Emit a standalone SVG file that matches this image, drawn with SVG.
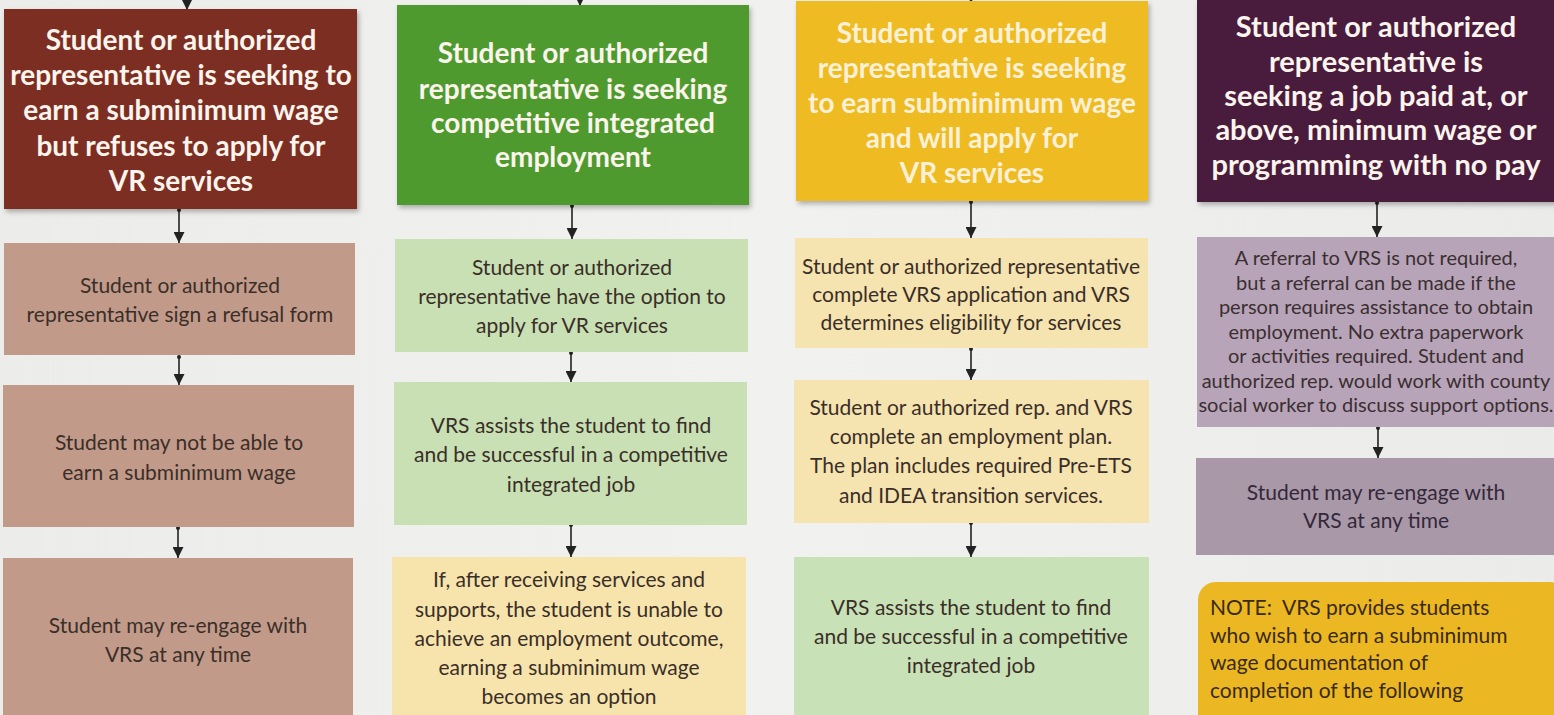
<svg xmlns="http://www.w3.org/2000/svg" width="1554" height="715" viewBox="0 0 1554 715">
<defs>
<style>
.hd{font-family:Lato,"Open Sans","DejaVu Sans",sans-serif;font-weight:700;font-size:28px;text-anchor:middle;fill:#fbf4ec}
.bd{font-family:Lato,"Open Sans","DejaVu Sans",sans-serif;font-weight:400;font-size:21px;text-anchor:middle;fill:#3a2f28}
.sm{font-family:Lato,"Open Sans","DejaVu Sans",sans-serif;font-weight:400;font-size:20px;text-anchor:middle;fill:#3a2f30}
.nt{font-family:Lato,"Open Sans","DejaVu Sans",sans-serif;font-weight:400;font-size:21px;fill:#3a2a10}
.cn{stroke:#222;stroke-width:1.6;fill:none;marker-end:url(#ah);marker-start:url(#dot)}
.cn0{stroke:#222;stroke-width:1.6;fill:none;marker-end:url(#ah)}
</style>
<marker id="ah" viewBox="0 0 10 10" refX="10" refY="5" markerWidth="13" markerHeight="11" markerUnits="userSpaceOnUse" orient="auto"><path d="M0,0 L10,5 L0,10 z" fill="#222"/></marker>
<marker id="dot" viewBox="0 0 4 4" refX="2" refY="2" markerWidth="4" markerHeight="4" markerUnits="userSpaceOnUse"><circle cx="2" cy="2" r="2" fill="#222"/></marker>
<filter id="sh" x="-5%" y="-5%" width="112%" height="115%"><feDropShadow dx="2" dy="3" stdDeviation="2.5" flood-color="#000" flood-opacity="0.28"/></filter>
<linearGradient id="bg" x1="0" y1="0" x2="1" y2="0"><stop offset="0" stop-color="#ececea"/><stop offset="0.5" stop-color="#f1f1ef"/><stop offset="1" stop-color="#ebebe9"/></linearGradient>
</defs>
<rect width="1554" height="715" fill="url(#bg)"/>

<g id="connectors">
<path class="cn0" d="M187,-6 V10"/>
<path class="cn0" d="M580,-8 V6"/>
<path class="cn0" d="M971,-10 V3"/>
<path class="cn0" d="M1377,-12 V1"/>
<path class="cn" d="M179,210 V243"/>
<path class="cn" d="M179,357 V385"/>
<path class="cn" d="M178,528 V558"/>
<path class="cn" d="M572,206 V239"/>
<path class="cn" d="M571,353 V382"/>
<path class="cn" d="M571,525 V557"/>
<path class="cn" d="M971,202 V238"/>
<path class="cn" d="M971,349 V380"/>
<path class="cn" d="M971,523 V557"/>
<path class="cn" d="M1377,203 V237"/>
<path class="cn" d="M1378,428 V458"/>
</g>

<g id="c1-head">
<rect x="4" y="9" width="353" height="200" fill="#7b2e24" filter="url(#sh)"/>
<text class="hd" x="181" y="50">Student or authorized</text>
<text class="hd" x="181" y="85">representative is seeking to</text>
<text class="hd" x="181" y="120">earn a subminimum wage</text>
<text class="hd" x="181" y="156">but refuses to apply for</text>
<text class="hd" x="181" y="191">VR services</text>
</g>
<g id="c1-refusal">
<rect x="4" y="243" width="351" height="112" fill="#c29a8a"/>
<text class="bd" x="180" y="293">Student or authorized</text>
<text class="bd" x="180" y="322">representative sign a refusal form</text>
</g>
<g id="c1-notable">
<rect x="3" y="385" width="351" height="142" fill="#c29a8a"/>
<text class="bd" x="179" y="450">Student may not be able to</text>
<text class="bd" x="179" y="480">earn a subminimum wage</text>
</g>
<g id="c1-reengage">
<rect x="3" y="558" width="350" height="170" fill="#c29a8a"/>
<text class="bd" x="178" y="633">Student may re-engage with</text>
<text class="bd" x="178" y="662">VRS at any time</text>
</g>

<g id="c2-head">
<rect x="397" y="5" width="352" height="200" fill="#4f9a2f" filter="url(#sh)"/>
<text class="hd" x="573" y="63">Student or authorized</text>
<text class="hd" x="573" y="99">representative is seeking</text>
<text class="hd" x="573" y="133">competitive integrated</text>
<text class="hd" x="573" y="167">employment</text>
</g>
<g id="c2-option">
<rect x="395" y="239" width="353" height="113" fill="#c8e0b4"/>
<text class="bd" x="572" y="275">Student or authorized</text>
<text class="bd" x="572" y="304">representative have the option to</text>
<text class="bd" x="572" y="333">apply for VR services</text>
</g>
<g id="c2-assist">
<rect x="394" y="382" width="353" height="143" fill="#c8e0b4"/>
<text class="bd" x="571" y="433">VRS assists the student to find</text>
<text class="bd" x="571" y="462">and be successful in a competitive</text>
<text class="bd" x="571" y="492">integrated job</text>
</g>
<g id="c2-unable">
<rect x="392" y="557" width="354" height="170" fill="#f7e4ad"/>
<text class="bd" x="569" y="587">If, after receiving services and</text>
<text class="bd" x="569" y="617">supports, the student is unable to</text>
<text class="bd" x="569" y="646">achieve an employment outcome,</text>
<text class="bd" x="569" y="675">earning a subminimum wage</text>
<text class="bd" x="569" y="704">becomes an option</text>
</g>

<g id="c3-head">
<rect x="796" y="1" width="352" height="200" fill="#efbb22" filter="url(#sh)"/>
<text class="hd" x="972" y="43" style="fill:#fcf1d6">Student or authorized</text>
<text class="hd" x="972" y="78" style="fill:#fcf1d6">representative is seeking</text>
<text class="hd" x="972" y="113" style="fill:#fcf1d6">to earn subminimum wage</text>
<text class="hd" x="972" y="148" style="fill:#fcf1d6">and will apply for</text>
<text class="hd" x="972" y="183" style="fill:#fcf1d6">VR services</text>
</g>
<g id="c3-apply">
<rect x="795" y="238" width="353" height="110" fill="#f5e3b0"/>
<text class="bd" x="971" y="274">Student or authorized representative</text>
<text class="bd" x="971" y="302">complete VRS application and VRS</text>
<text class="bd" x="971" y="330">determines eligibility for services</text>
</g>
<g id="c3-plan">
<rect x="794" y="380" width="355" height="143" fill="#f5e3b0"/>
<text class="bd" x="971" y="415">Student or authorized rep. and VRS</text>
<text class="bd" x="971" y="444">complete an employment plan.</text>
<text class="bd" x="971" y="473">The plan includes required Pre-ETS</text>
<text class="bd" x="971" y="503">and IDEA transition services.</text>
</g>
<g id="c3-assist">
<rect x="794" y="557" width="355" height="170" fill="#c9e1b7"/>
<text class="bd" x="971" y="615">VRS assists the student to find</text>
<text class="bd" x="971" y="644">and be successful in a competitive</text>
<text class="bd" x="971" y="673">integrated job</text>
</g>

<g id="c4-head">
<rect x="1197" y="0" width="362" height="202" fill="#4a1c3c" filter="url(#sh)"/>
<text class="hd" x="1376" y="37" style="font-size:29px">Student or authorized</text>
<text class="hd" x="1376" y="72" style="font-size:29px">representative is</text>
<text class="hd" x="1376" y="106" style="font-size:29px">seeking a job paid at, or</text>
<text class="hd" x="1376" y="140" style="font-size:29px">above, minimum wage or</text>
<text class="hd" x="1376" y="175" style="font-size:29px">programming with no pay</text>
</g>
<g id="c4-referral">
<rect x="1197" y="237" width="362" height="190" fill="#b8a4b9"/>
<text class="sm" x="1376" y="265">A referral to VRS is not required,</text>
<text class="sm" x="1376" y="289.5">but a referral can be made if the</text>
<text class="sm" x="1376" y="314">person requires assistance to obtain</text>
<text class="sm" x="1376" y="338.5">employment. No extra paperwork</text>
<text class="sm" x="1376" y="363">or activities required. Student and</text>
<text class="sm" x="1376" y="387.5">authorized rep. would work with county</text>
<text class="sm" x="1376" y="412">social worker to discuss support options.</text>
</g>
<g id="c4-reengage">
<rect x="1196" y="458" width="363" height="97" fill="#a898a8"/>
<text class="bd" x="1376" y="500" style="fill:#34283a">Student may re-engage with</text>
<text class="bd" x="1376" y="528" style="fill:#34283a">VRS at any time</text>
</g>
<g id="c4-note">
<rect x="1198" y="582" width="370" height="150" rx="18" ry="18" fill="#ebb824"/>
<text class="nt" x="1210" y="615" xml:space="preserve">NOTE:  VRS provides students</text>
<text class="nt" x="1210" y="643">who wish to earn a subminimum</text>
<text class="nt" x="1210" y="670">wage documentation of</text>
<text class="nt" x="1210" y="698">completion of the following</text>
</g>
</svg>
